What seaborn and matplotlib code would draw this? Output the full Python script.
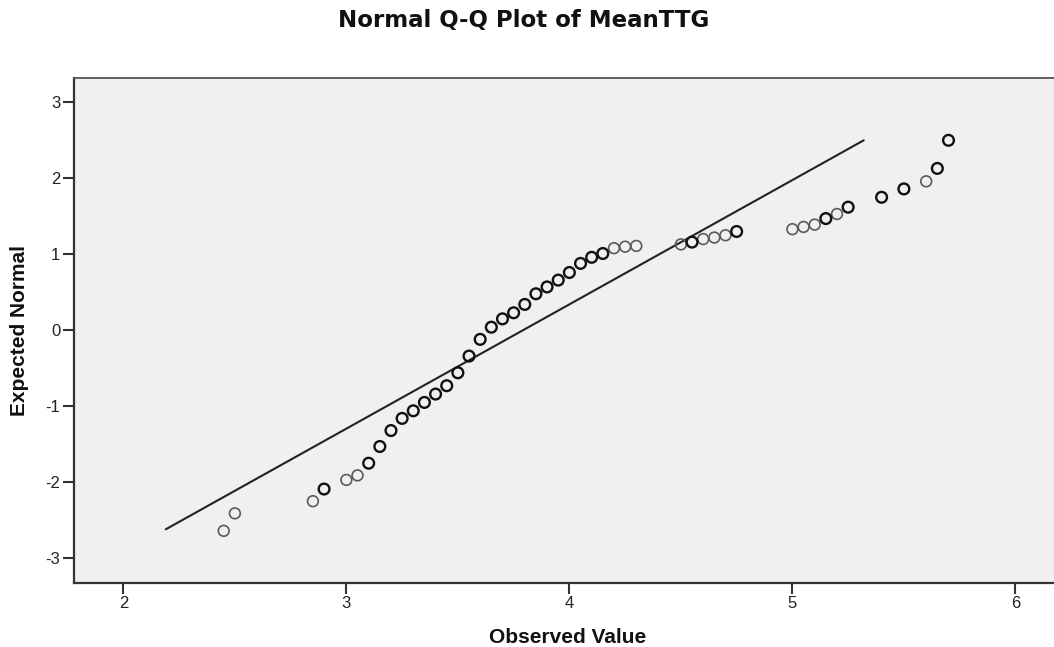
import matplotlib
matplotlib.use("Agg")
import matplotlib.pyplot as plt
import seaborn as sns
import pandas as pd

# ---- data ----
observed = [2.45, 2.50, 2.85, 2.90, 3.00, 3.05, 3.10, 3.15, 3.20, 3.25, 3.30, 3.35,
            3.40, 3.45, 3.50, 3.55, 3.60, 3.65, 3.70, 3.75, 3.80, 3.85, 3.90, 3.95,
            4.00, 4.05, 4.10, 4.15, 4.20, 4.25, 4.30, 4.50, 4.55, 4.60, 4.65, 4.70,
            4.75, 5.00, 5.05, 5.10, 5.15, 5.20, 5.25, 5.40, 5.50, 5.60, 5.65, 5.70]
expected = [-2.64, -2.41, -2.25, -2.09, -1.97, -1.91, -1.75, -1.53, -1.32, -1.16, -1.06, -0.95,
            -0.84, -0.73, -0.56, -0.34, -0.12, 0.04, 0.15, 0.23, 0.34, 0.48, 0.57, 0.66,
            0.76, 0.88, 0.96, 1.01, 1.08, 1.10, 1.11, 1.13, 1.16, 1.20, 1.22, 1.25,
            1.30, 1.33, 1.36, 1.39, 1.47, 1.53, 1.62, 1.75, 1.86, 1.96, 2.13, 2.50]
repeated = [0, 0, 0, 1, 0, 0, 1, 1, 1, 1, 1, 1,
            1, 1, 1, 1, 1, 1, 1, 1, 1, 1, 1, 1,
            1, 1, 1, 1, 0, 0, 0, 0, 1, 0, 0, 0,
            1, 0, 0, 0, 1, 0, 1, 1, 1, 0, 1, 1]
ref_x = [2.19, 5.32]
ref_y = [-2.62, 2.50]
x_ticks = [2, 3, 4, 5, 6]
y_ticks = [-3, -2, -1, 0, 1, 2, 3]

df = pd.DataFrame({"Observed": observed, "Expected": expected, "rep": repeated})
ref = pd.DataFrame({"x": ref_x, "y": ref_y})

sns.set_theme(style="white")
plt.rcParams["font.family"] = ["Liberation Sans", "DejaVu Sans"]

fig = plt.figure(figsize=(10.54, 6.47), dpi=100)
ax = fig.add_axes([74.3 / 1054, 1 - 582.5 / 647, (1060 - 74.3) / 1054, (582.5 - 78) / 647])
ax.set_facecolor("#F0F0F0")

sns.lineplot(data=ref, x="x", y="y", ax=ax, color="#222222", linewidth=1.5)
light = df[df.rep == 0]
dark = df[df.rep == 1]
sns.scatterplot(data=light, x="Observed", y="Expected", ax=ax, marker="o", s=60,
                facecolor="none", edgecolor="#5a5a5a", linewidth=1.2, zorder=3)
sns.scatterplot(data=dark, x="Observed", y="Expected", ax=ax, marker="o", s=60,
                facecolor="none", edgecolor="#111111", linewidth=1.7, zorder=4)

ax.set_xlim(1.78, 6.20)
ax.set_ylim(-3.32, 3.32)
ax.set_xticks(x_ticks)
ax.set_yticks(y_ticks)
ax.set_xticklabels([str(t) for t in x_ticks])
ax.set_yticklabels([str(t) for t in y_ticks])
ax.tick_params(axis="both", direction="out", length=8, width=1.5, color="#333333",
               labelsize=12, pad=2, labelcolor="#222222")
ax.tick_params(bottom=True, left=True, top=False, right=False)

for side in ["left", "bottom"]:
    ax.spines[side].set_color("#333333")
    ax.spines[side].set_linewidth(1.6)
ax.spines["top"].set_color("#555555")
ax.spines["top"].set_linewidth(1.3)
ax.spines["right"].set_visible(False)

ax.set_xlabel("Observed Value", fontsize=15, fontweight="bold", labelpad=12, color="#111111")
ax.set_ylabel("Expected Normal", fontsize=15, fontweight="bold", labelpad=12, color="#111111")

fig.text(524 / 1054, 1 - 20 / 647, "Normal Q-Q Plot of MeanTTG", ha="center", va="center",
         fontsize=16.5, fontweight="bold", family=["DejaVu Sans"], color="#111111")

fig.savefig("out.png", dpi=100)
